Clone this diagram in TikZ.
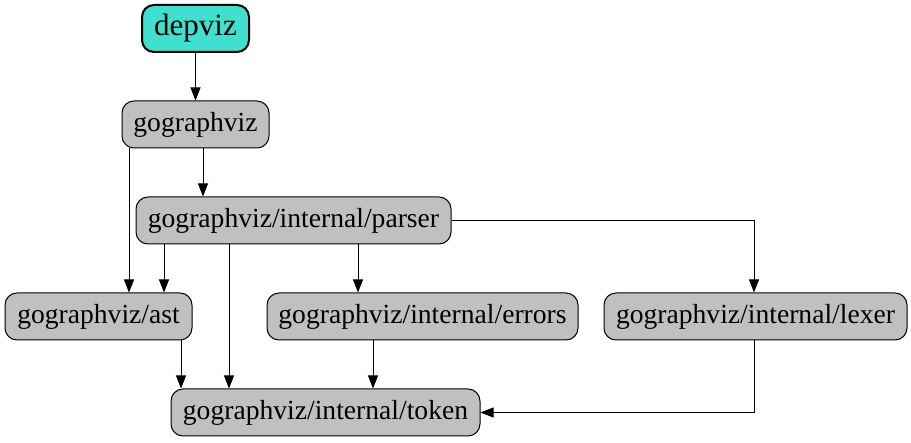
\documentclass[tikz,border=0pt]{standalone}
\usepackage{fontspec}
\setmainfont{Liberation Serif}
\usetikzlibrary{arrows.meta}
\definecolor{pkgfill}{HTML}{C0C0C0}
\definecolor{rootfill}{HTML}{40E0D0}
\tikzset{
  pkg/.style={draw=black, line width=1pt, fill=pkgfill, rounded corners=12pt,
    inner sep=0pt, minimum height=47pt, font=\fontsize{27.6}{30}\selectfont},
  root/.style={pkg, fill=rootfill, line width=2pt, font=\fontsize{31}{34}\selectfont},
  edge/.style={draw=black, line width=1pt, -{Triangle[length=13pt,width=10pt]}}
}
\begin{document}
\begin{tikzpicture}[x=1pt,y=-1pt]
\useasboundingbox (0,0) rectangle (911,443);
\node[root, minimum width=107pt] (dep) at (195.5,28.5) {depviz};
\node[pkg, minimum width=147pt] (gg) at (195.5,124.5) {gographviz};
\node[pkg, minimum width=315pt] (pa) at (293.5,220.5) {gographviz/internal/parser};
\node[pkg, minimum width=187pt] (ast) at (98.5,316.5) {gographviz/ast};
\node[pkg, minimum width=311pt] (er) at (422.5,316.5) {gographviz/internal/errors};
\node[pkg, minimum width=303pt] (lx) at (755.5,316.5) {gographviz/internal/lexer};
\node[pkg, minimum width=309pt] (tk) at (325.5,412.5) {gographviz/internal/token};

\draw[edge] (dep.south) -- (gg.north);
\draw[edge] ([xshift=7.5pt]gg.south) coordinate (a1) -- (a1 |- pa.north);
\draw[edge] ([xshift=-66.5pt]gg.south) coordinate (a2) -- (a2 |- ast.north);
\draw[edge] ([xshift=-129.5pt]pa.south) coordinate (a3) -- (a3 |- ast.north);
\draw[edge] ([xshift=-64.5pt]pa.south) coordinate (a4) -- (a4 |- tk.north);
\draw[edge] ([xshift=64.5pt]pa.south) coordinate (a5) -- (a5 |- er.north);
\draw[edge] (pa.east) -| ([xshift=-1.5pt]lx.north);
\draw[edge] ([xshift=82.5pt]ast.south) coordinate (a6) -- (a6 |- tk.north);
\draw[edge] ([xshift=-49.5pt]er.south) coordinate (a7) -- (a7 |- tk.north);
\draw[edge] ([xshift=-1.5pt]lx.south) |- (tk.east);
\end{tikzpicture}
\end{document}
